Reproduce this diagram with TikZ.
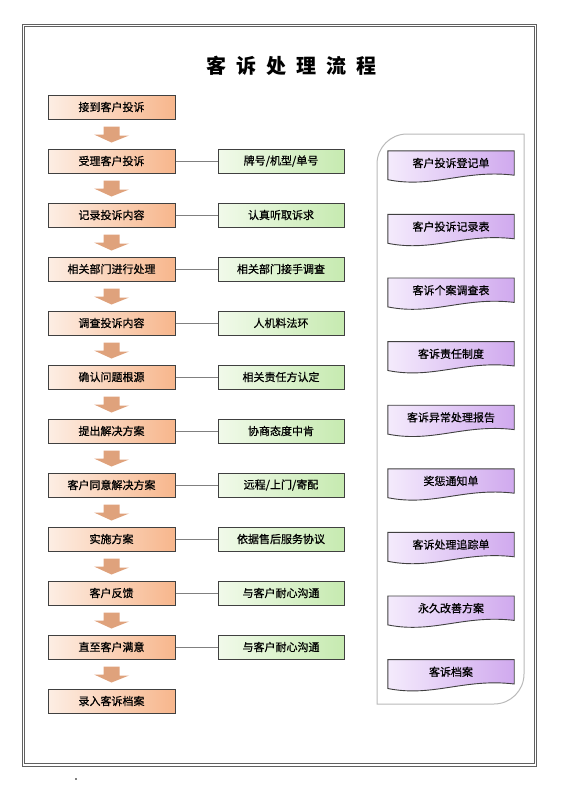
\documentclass[tikz,border=0pt]{standalone}
\usepackage{fontspec}
\setmainfont{Noto Sans CJK SC}[FakeBold=0.7]
\newfontfamily\cjk{Noto Sans CJK SC}
\usetikzlibrary{backgrounds}
\definecolor{boxedge}{HTML}{404040}
\definecolor{orangeL}{HTML}{FDEEE4}
\definecolor{orangeR}{HTML}{F7B68C}
\definecolor{greenL}{HTML}{F1FAEA}
\definecolor{greenR}{HTML}{C6EAB0}
\definecolor{purpleL}{HTML}{F4EBFC}
\definecolor{purpleR}{HTML}{D0A9EE}
\definecolor{arrowtan}{HTML}{DFA27C}
\tikzset{
  stepbox/.style={draw=boxedge,line width=1pt,left color=orangeL,right color=orangeR,
    minimum width=127pt,minimum height=24pt,inner sep=0pt},
  notebox/.style={draw=boxedge,line width=1pt,left color=greenL,right color=greenR,
    minimum width=126pt,minimum height=24pt,inner sep=0pt},
  docbox/.style={minimum width=126pt,minimum height=24pt,inner sep=0pt},
  docshape/.style={draw=boxedge,line width=0.9pt,left color=purpleL,right color=purpleR},
  link/.style={draw=gray,line width=0.8pt},
}
\begin{document}
\begin{tikzpicture}[x=1pt,y=1pt,font=\fontsize{11}{13}\selectfont]
    \useasboundingbox (0,0) rectangle (560,-792);
    % frame and title
    \draw[gray!75!black,line width=0.9pt,double=white,double distance=1.6pt] (23.5,-25.5) rectangle (535.5,-765);
    \node (title) at (291,-66) {\cjk\bfseries\fontsize{20}{24}\selectfont 客\hspace{.5em}诉\hspace{.5em}处\hspace{.5em}理\hspace{.5em}流\hspace{.5em}程};
    \fill (76,-779) circle (0.8);
    % steps
    \foreach \t [count=\i] in {接到客户投诉,受理客户投诉,记录投诉内容,相关部门进行处理,调查投诉内容,确认问题根源,
        提出解决方案,客户同意解决方案,实施方案,客户反馈,直至客户满意,录入客诉档案}{
        \node[stepbox] (s\i) at (111.5,{-107-54*(\i-1)}) {\t};
    }
    \foreach \i [evaluate=\i as \j using int(\i+1)] in {1,...,11}{
        \fill[arrowtan] ([shift={(-8,-7)}]s\i.south) -- ++(16,0) -- ++(0,-9) -- ++(9.5,0)
            -- ([yshift=6pt]s\j.north) -- ++(-17.5,8) -- ++(9.5,0) -- cycle;
    }
    % notes
    \foreach \t [count=\i from 2] in {牌号/机型/单号,认真听取诉求,相关部门接手调查,人机料法环,相关责任方认定,
        协商态度中肯,远程/上门/寄配,依据售后服务协议,与客户耐心沟通,与客户耐心沟通}{
        \node[notebox] (n\i) at (281,{-107-54*(\i-1)}) {\t};
        \draw[link] (s\i) -- (n\i);
    }
    % documents
    \draw[gray!55,line width=1pt] (377,-704) -- (377,-164) arc[start angle=180,end angle=90,radius=30]
        -- (524,-134) -- (524,-674) arc[start angle=0,end angle=-90,radius=30] -- cycle;
    \foreach \t [count=\i] in {客户投诉登记单,客户投诉记录表,客诉个案调查表,客诉责任制度,客诉异常处理报告,
        奖惩通知单,客诉处理追踪单,永久改善方案,客诉档案}{
        \node[docbox] (d\i) at (451,{-163-63.6*(\i-1)}) {\t};
        \begin{scope}[on background layer]
            \path[docshape] (d\i.north west) -- (d\i.north east) -- (d\i.south east)
                .. controls +(-50,6) and +(45,-9) .. ([yshift=-4.5pt]d\i.south west) -- cycle;
        \end{scope}
    }
\end{tikzpicture}
\end{document}
